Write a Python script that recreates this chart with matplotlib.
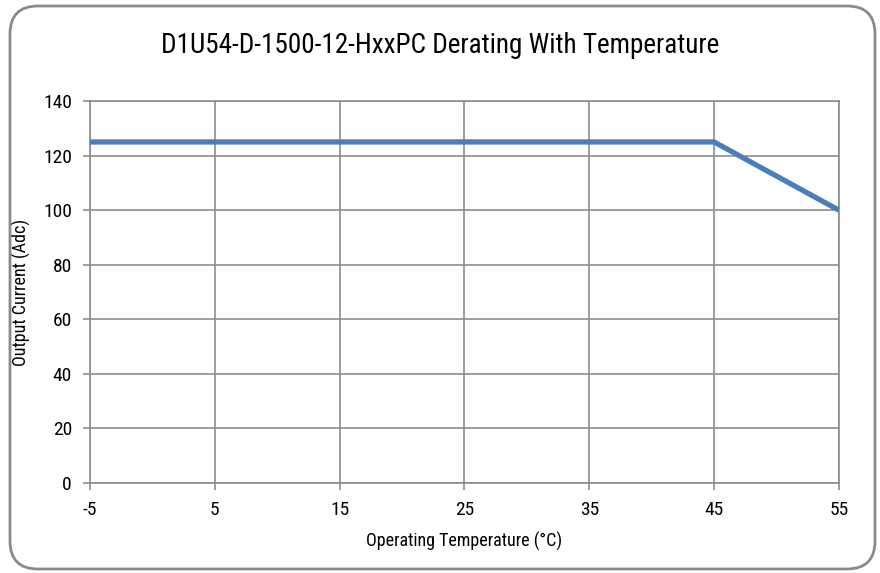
import matplotlib.pyplot as plt
from matplotlib.patches import FancyBboxPatch

temps = [-5, 45, 55]
current = [125, 125, 100]
xticks = [-5, 5, 15, 25, 35, 45, 55]
yticks = [0, 20, 40, 60, 80, 100, 120, 140]

plt.rcParams['font.family'] = ['Roboto Condensed', 'Liberation Sans Narrow', 'Liberation Sans', 'DejaVu Sans']
plt.rcParams['axes.unicode_minus'] = False

fig = plt.figure(figsize=(8.8, 5.73), dpi=100)
ax = fig.add_axes([0.1023, 0.157, 0.851, 0.6667])

# rounded frame around the whole chart (inch units so the corners stay round)
frame = FancyBboxPatch((0.10, 0.04), 8.65, 5.63,
                       boxstyle="round,pad=0,rounding_size=0.28",
                       transform=fig.dpi_scale_trans, fill=False,
                       edgecolor='#8a8a8a', linewidth=2)
fig.patches.append(frame)

ax.plot(temps, current, color='#4a7ebb', linewidth=3.8, solid_capstyle='butt', zorder=3)

ax.set_xlim(-5, 55)
ax.set_ylim(0, 140)
ax.set_xticks(xticks)
ax.set_yticks(yticks)
ax.grid(True, color='#8c8c8c', linewidth=1.2)
for s in ax.spines.values():
    s.set_color('#8c8c8c')
    s.set_linewidth(1.2)
ax.tick_params(colors='#8c8c8c', labelcolor='black', labelsize=14, length=5, width=1.2)
ax.tick_params(axis='y', pad=8)
ax.tick_params(axis='x', pad=8)

fig.text(0.5, 1 - 53 / 573, 'D1U54-D-1500-12-HxxPC Derating With Temperature',
         fontsize=19.5, ha='center', va='baseline')
ax.set_xlabel('Operating Temperature (°C)', fontsize=13, labelpad=9)
ax.set_ylabel('Output Current (Adc)', fontsize=13, labelpad=9)

fig.savefig('out.png', dpi=100)
